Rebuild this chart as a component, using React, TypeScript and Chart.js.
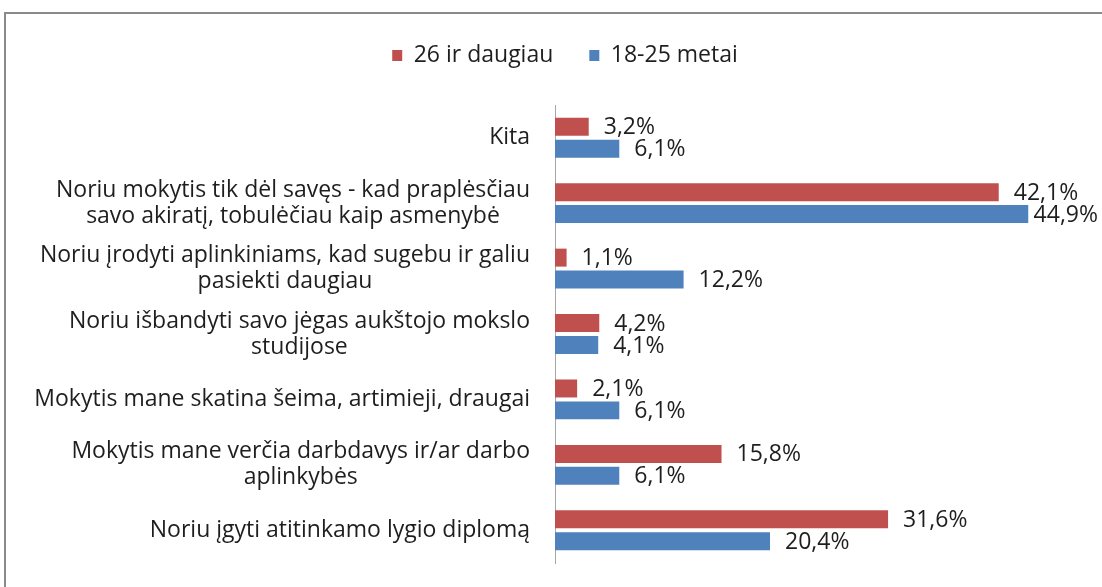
import React, { useEffect, useRef } from "react";
import { Chart, registerables } from "chart.js";

Chart.register(...registerables);

const categories: string[][] = [
  ["Kita"],
  ["Noriu mokytis tik dėl savęs - kad praplėsčiau", "savo akiratį, tobulėčiau kaip asmenybė"],
  ["Noriu įrodyti aplinkiniams, kad sugebu ir galiu", "pasiekti daugiau"],
  ["Noriu išbandyti savo jėgas aukštojo mokslo", "studijose"],
  ["Mokytis mane skatina šeima, artimieji, draugai"],
  ["Mokytis mane verčia darbdavys ir/ar darbo", "aplinkybės"],
  ["Noriu įgyti atitinkamo lygio diplomą"],
];
const seriesNames = ["26 ir daugiau", "18-25 metai"];
const olderValues = [3.2, 42.1, 1.1, 4.2, 2.1, 15.8, 31.6];
const youngerValues = [6.1, 44.9, 12.2, 4.1, 6.1, 6.1, 20.4];
const seriesColors = ["#C0504D", "#4F81BD"];

const FONT = "'Open Sans'";
const FONT_SIZE = 23;
const TEXT_COLOR = "#1e1e1e";
const fmt = (v: number) => v.toFixed(1).replace(".", ",") + "%";

const framePlugin = {
  id: "frame",
  beforeDraw(chart: any) {
    const ctx = chart.ctx;
    ctx.save();
    ctx.fillStyle = "#ffffff";
    ctx.fillRect(0, 0, chart.width, chart.height);
    ctx.strokeStyle = "#8a8a8a";
    ctx.lineWidth = 2;
    ctx.strokeRect(5, 13, chart.width + 50, chart.height + 50);
    ctx.restore();
  },
};

const legendFitPlugin = {
  id: "legendFit",
  beforeInit(chart: any) {
    const legend = chart.legend;
    if (!legend) return;
    const orig = legend.fit;
    legend.fit = function () {
      orig.bind(legend)();
      this.height = 97;
    };
  },
  afterLayout(chart: any) {
    const legend = chart.legend;
    if (!legend) return;
    legend.left += 24;
    legend.right += 24;
  },
};

const categoryLabelPlugin = {
  id: "categoryLabels",
  afterDraw(chart: any) {
    const ctx = chart.ctx;
    const yScale = chart.scales.y;
    const rightEdge = chart.chartArea.left - 25;
    const lineH = 26;
    ctx.save();
    ctx.font = `${FONT_SIZE}px ${FONT}`;
    ctx.fillStyle = TEXT_COLOR;
    ctx.textAlign = "center";
    ctx.textBaseline = "middle";
    (chart.data.labels as string[][]).forEach((lines, i) => {
      const cy = yScale.getPixelForTick(i);
      const maxW = Math.max(...lines.map((l) => ctx.measureText(l).width));
      const cx = rightEdge - maxW / 2;
      const startY = cy - ((lines.length - 1) * lineH) / 2;
      lines.forEach((l, j) => ctx.fillText(l, cx, startY + j * lineH));
    });
    ctx.restore();
  },
};

const dataLabelPlugin = {
  id: "dataLabels",
  afterDatasetsDraw(chart: any) {
    const ctx = chart.ctx;
    ctx.save();
    ctx.font = `${FONT_SIZE}px ${FONT}`;
    ctx.fillStyle = TEXT_COLOR;
    ctx.textAlign = "left";
    ctx.textBaseline = "middle";
    chart.data.datasets.forEach((ds: any, di: number) => {
      const meta = chart.getDatasetMeta(di);
      meta.data.forEach((el: any, i: number) => {
        const txt = fmt(ds.data[i]);
        const w = ctx.measureText(txt).width;
        const x = Math.min(el.x + 15, chart.width - 4 - w);
        ctx.fillText(txt, x, el.y + 1);
      });
    });
    ctx.restore();
  },
};

export default function App() {
  const canvasRef = useRef<HTMLCanvasElement | null>(null);

  useEffect(() => {
    if (!canvasRef.current) return;
    const chart = new Chart(canvasRef.current, {
      type: "bar",
      data: {
        labels: categories,
        datasets: [
          {
            label: seriesNames[0],
            data: olderValues,
            backgroundColor: seriesColors[0],
            borderWidth: 0,
            barPercentage: 0.82,
            categoryPercentage: 0.67,
          },
          {
            label: seriesNames[1],
            data: youngerValues,
            backgroundColor: seriesColors[1],
            borderWidth: 0,
            barPercentage: 0.82,
            categoryPercentage: 0.67,
          },
        ],
      },
      options: {
        indexAxis: "y",
        animation: false,
        responsive: true,
        maintainAspectRatio: false,
        layout: { padding: { top: 8, right: 20, bottom: 24, left: 0 } },
        scales: {
          x: { display: false, min: 0, max: 50 },
          y: {
            type: "category",
            ticks: { display: false },
            grid: { display: false },
            border: { display: true, color: "#a6a6a6", width: 1 },
            afterFit: (s: any) => {
              s.width = 555;
            },
          },
        },
        plugins: {
          tooltip: { enabled: false },
          legend: {
            display: true,
            position: "top",
            labels: {
              boxWidth: 10,
              boxHeight: 11,
              padding: 36,
              color: TEXT_COLOR,
              font: { family: FONT, size: FONT_SIZE },
            },
          },
        },
      },
      plugins: [framePlugin, legendFitPlugin, categoryLabelPlugin, dataLabelPlugin],
    } as any);
    return () => chart.destroy();
  }, []);

  return (
    <div style={{ position: "absolute", left: 0, top: 0, width: 1102, height: 587, overflow: "hidden" }}>
      <canvas ref={canvasRef} />
    </div>
  );
}
